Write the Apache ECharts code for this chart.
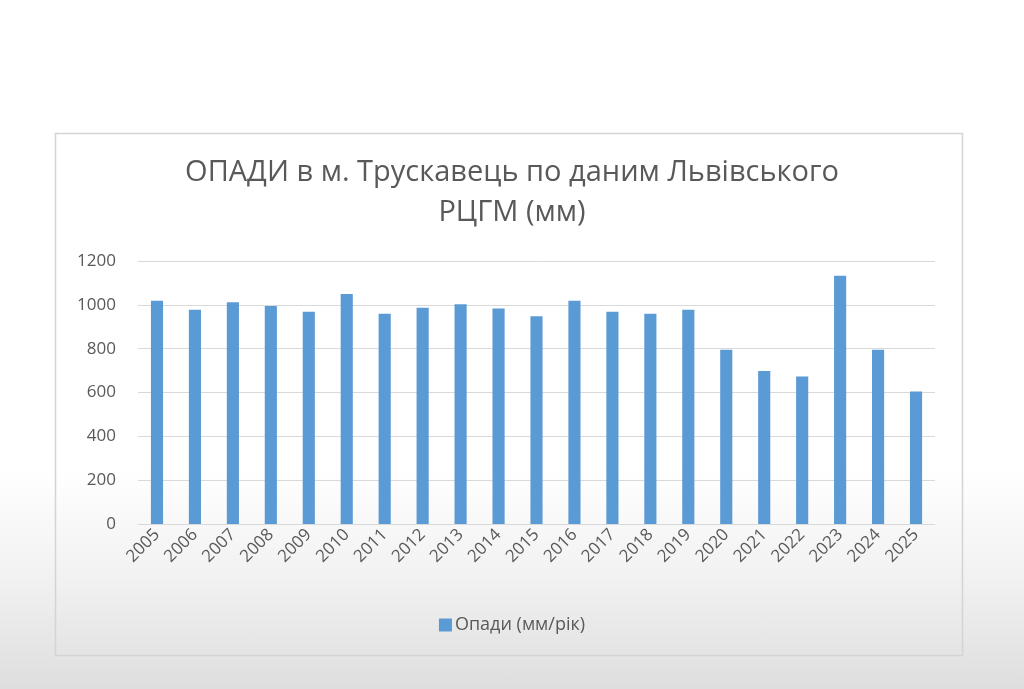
<!DOCTYPE html>
<html>
<head>
<meta charset="utf-8">
<script src="https://cdn.jsdelivr.net/npm/echarts@6/dist/echarts.min.js"></script>
<style>
html,body{margin:0;padding:0;width:1024px;height:689px;overflow:hidden;
background:linear-gradient(to bottom,#ffffff 0px,#ffffff 470px,#f1f1f1 580px,#dedede 689px);}
#c{width:1024px;height:689px;}
</style>
</head>
<body>
<div id="c"></div>
<script>
const titleText = 'ОПАДИ в м. Трускавець по даним Львівського\nРЦГМ (мм)';
const seriesName = 'Опади (мм/рік)';
const years = ['2005','2006','2007','2008','2009','2010','2011','2012','2013','2014','2015','2016','2017','2018','2019','2020','2021','2022','2023','2024','2025'];
const precipitation = [1019,977,1012,995,969,1050,959,987,1003,983,948,1019,969,959,977,795,698,673,1133,795,605];
const yTicks = [0,200,400,600,800,1000,1200];

const FONT = '"Open Sans", "Noto Sans", sans-serif';
const chart = echarts.init(document.getElementById('c'), null, {renderer:'canvas'});
chart.setOption({
  backgroundColor:'transparent',
  animation:false,
  textStyle:{fontFamily:FONT},
  graphic:[{
    type:'rect', shape:{x:55.5,y:133.5,width:907,height:522},
    style:{fill:'transparent',stroke:'#d4d4d4',lineWidth:1.5}, silent:true
  }],
  title:{
    text:titleText, left:'center', top:148,
    textStyle:{fontFamily:FONT,fontSize:29,fontWeight:'normal',color:'#595959',lineHeight:40}
  },
  legend:{
    data:[seriesName], left:'center', top:611,
    itemWidth:13, itemHeight:13, itemGap:10, icon:'rect',
    textStyle:{fontFamily:FONT,fontSize:18,color:'#595959',padding:[0,0,0,-2]}
  },
  grid:{left:138,right:89,top:261,bottom:165,containLabel:false},
  xAxis:{
    type:'category', data:years,
    axisLine:{show:true,lineStyle:{color:'#d9d9d9',width:1}},
    axisTick:{show:false},
    axisLabel:{rotate:45,fontFamily:FONT,fontSize:17,color:'#595959',margin:8,interval:0}
  },
  yAxis:{
    type:'value', min:yTicks[0], max:yTicks[yTicks.length-1], interval:200,
    axisLine:{show:false}, axisTick:{show:false},
    splitLine:{lineStyle:{color:'#d9d9d9',width:1}},
    axisLabel:{fontFamily:FONT,fontSize:17,color:'#595959',margin:22,formatter:function(v){return String(v);}}
  },
  series:[{
    name:seriesName, type:'bar', data:precipitation,
    barWidth:'32%',
    itemStyle:{color:'#5b9bd5'}
  }]
});
</script>
</body>
</html>
